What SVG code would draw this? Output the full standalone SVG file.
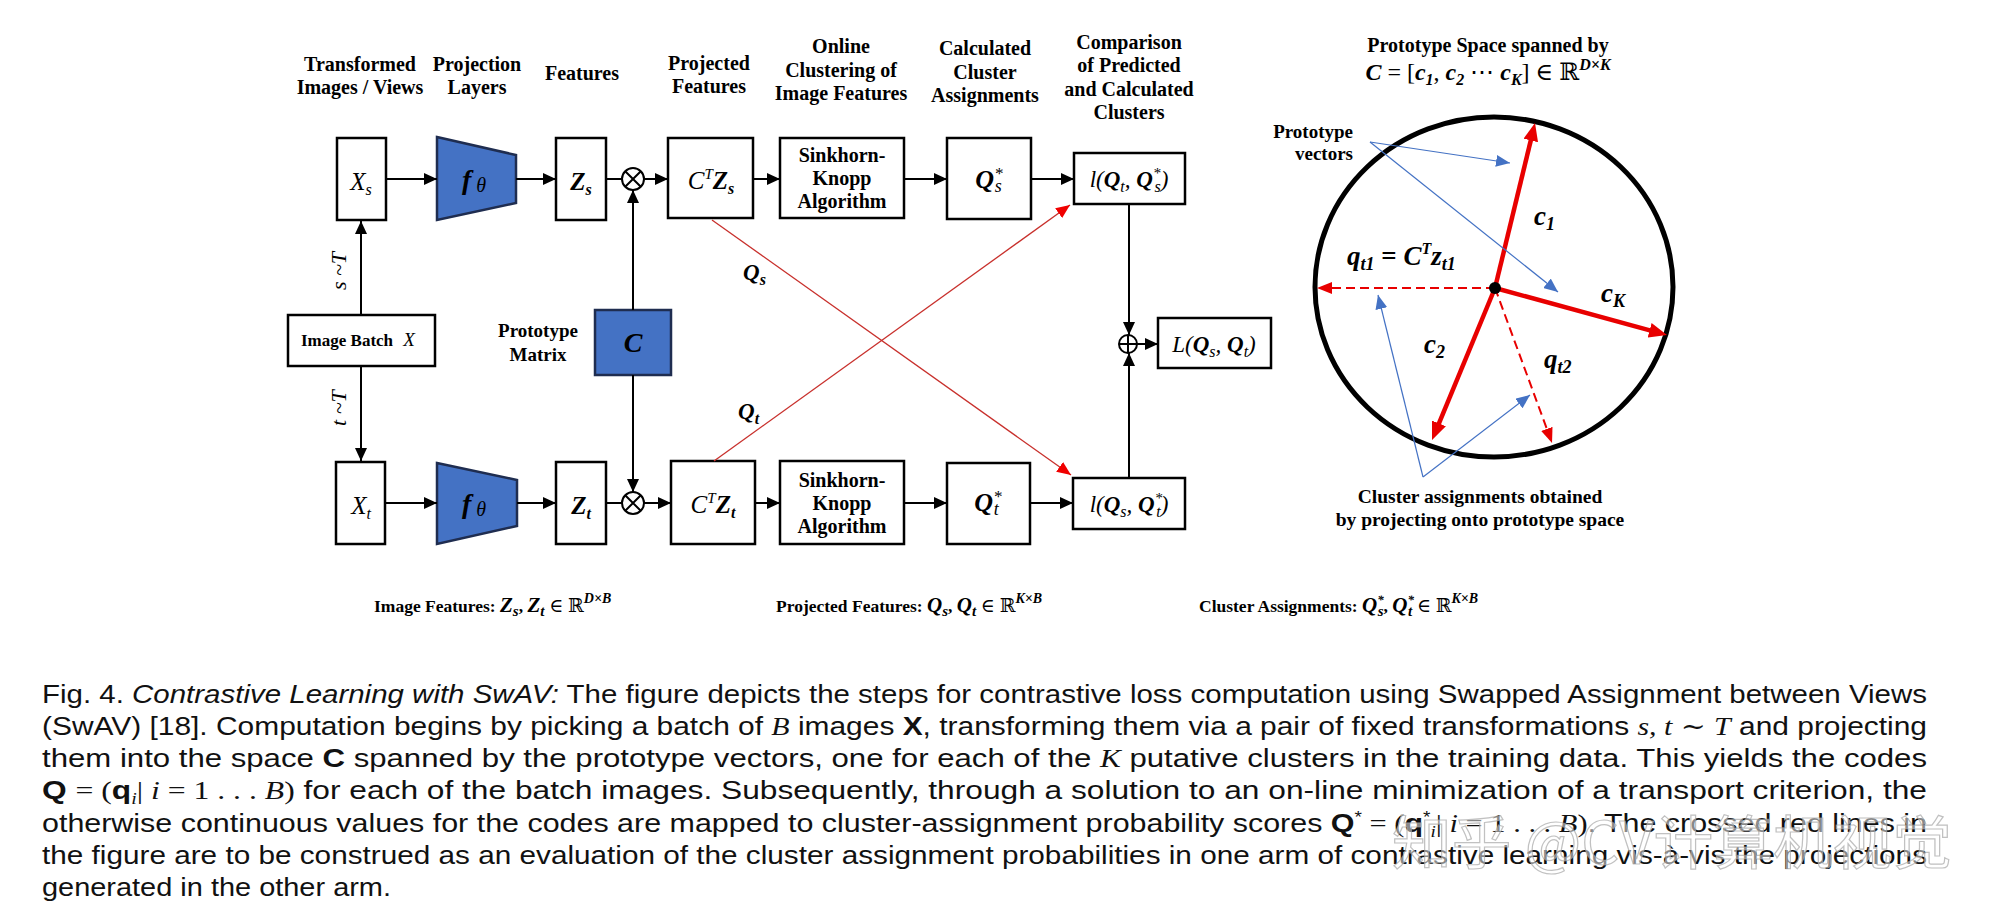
<svg xmlns="http://www.w3.org/2000/svg" width="2002" height="924" viewBox="0 0 2002 924">
<style>
.hdr{font-family:"Liberation Serif","DejaVu Serif",serif;font-weight:bold;font-size:20px;text-anchor:middle;fill:#000}
.lbl{font-family:"Liberation Serif","DejaVu Serif",serif;font-weight:bold;fill:#000}
.box{fill:#fff;stroke:#000;stroke-width:2.5}
.blue{fill:#4472C4;stroke:#1F2D50;stroke-width:2.5}
.m{font-family:"Liberation Serif","DejaVu Serif",serif;font-style:italic;fill:#000}
.mb{font-family:"Liberation Serif","DejaVu Serif",serif;font-style:italic;font-weight:bold;fill:#000}
.conn{stroke:#000;stroke-width:2;fill:none}
.redl{stroke:#C8302C;stroke-width:1.3;fill:none}
.rthick{stroke:#E80000;stroke-width:4.5;fill:none}
.rdash{stroke:#E80000;stroke-width:2;fill:none;stroke-dasharray:9 5}
.bl{stroke:#4472C4;stroke-width:1.2;fill:none}
.cap{font-family:"Liberation Sans",Arial,sans-serif;font-size:25.5px;fill:#111}
.cm{font-family:"Liberation Serif","DejaVu Serif",serif;font-style:italic}
.cr{font-family:"Liberation Serif","DejaVu Serif",serif}
</style>
<defs>
<marker id="ah" markerUnits="userSpaceOnUse" viewBox="0 0 13 12" refX="13" refY="6" markerWidth="13" markerHeight="12" orient="auto"><path d="M0,0 L13,6 L0,12 z" fill="#000"/></marker>
<marker id="ahr" markerUnits="userSpaceOnUse" viewBox="0 0 14 12" refX="14" refY="6" markerWidth="14" markerHeight="12" orient="auto"><path d="M0,0 L14,6 L0,12 z" fill="#F00000"/></marker>
<marker id="ahR" markerUnits="userSpaceOnUse" viewBox="0 0 18 15" refX="4" refY="7.5" markerWidth="18" markerHeight="15" orient="auto"><path d="M0,0 L18,7.5 L0,15 z" fill="#E80000"/></marker>
<marker id="ahD" markerUnits="userSpaceOnUse" viewBox="0 0 15 12" refX="3" refY="6" markerWidth="15" markerHeight="12" orient="auto"><path d="M0,0 L15,6 L0,12 z" fill="#E80000"/></marker>
<marker id="ahB" markerUnits="userSpaceOnUse" viewBox="0 0 14 12" refX="14" refY="6" markerWidth="14" markerHeight="12" orient="auto"><path d="M0,0 L14,6 L0,12 z" fill="#4472C4"/></marker>
</defs>
<rect width="2002" height="924" fill="#fff"/>

<!-- headers -->
<g id="headers">
<text class="hdr" x="360" y="71">Transformed</text><text class="hdr" x="360" y="94">Images / Views</text>
<text class="hdr" x="477" y="71">Projection</text><text class="hdr" x="477" y="94">Layers</text>
<text class="hdr" x="582" y="80">Features</text>
<text class="hdr" x="709" y="70">Projected</text><text class="hdr" x="709" y="93">Features</text>
<text class="hdr" x="841" y="53">Online</text><text class="hdr" x="841" y="77">Clustering of</text><text class="hdr" x="841" y="100">Image Features</text>
<text class="hdr" x="985" y="55">Calculated</text><text class="hdr" x="985" y="79">Cluster</text><text class="hdr" x="985" y="102">Assignments</text>
<text class="hdr" x="1129" y="49">Comparison</text><text class="hdr" x="1129" y="72">of Predicted</text><text class="hdr" x="1129" y="96">and Calculated</text><text class="hdr" x="1129" y="119">Clusters</text>
</g>

<!-- top row -->
<g id="Xs"><rect class="box" x="337" y="138" width="49" height="82"/><text class="m" x="361" y="190" font-size="25" text-anchor="middle">X<tspan font-size="16" dy="5">s</tspan></text></g>
<g id="f_top"><polygon class="blue" points="437,137 516,155 516,203 437,220"/><text class="mb" x="474" y="189" font-size="28" text-anchor="middle" fill="#111">f<tspan class="m" font-weight="normal" font-size="20" dy="3"> θ</tspan></text></g>
<g id="Zs"><rect class="box" x="556" y="138" width="50" height="82"/><text class="mb" x="581" y="190" font-size="25" text-anchor="middle">Z<tspan font-size="16" dy="5">s</tspan></text></g>
<g id="otimes_top"><circle cx="633" cy="179" r="11" fill="#fff" stroke="#000" stroke-width="2"/><path d="M625.2,171.2 L640.8,186.8 M640.8,171.2 L625.2,186.8" stroke="#000" stroke-width="2"/></g>
<g id="CTZs"><rect class="box" x="668" y="138" width="85" height="80"/><text class="m" x="711" y="189" font-size="25" text-anchor="middle">C<tspan font-size="15" dy="-10">T</tspan><tspan class="mb" dy="10">Z</tspan><tspan font-size="16" font-weight="bold" dy="5">s</tspan></text></g>
<g id="SK_top"><rect class="box" x="780" y="138" width="124" height="80"/><text class="hdr" x="842" y="162">Sinkhorn-</text><text class="hdr" x="842" y="185">Knopp</text><text class="hdr" x="842" y="208">Algorithm</text></g>
<g id="Qs_star"><rect class="box" x="947" y="138" width="84" height="81"/><text class="mb" x="989" y="188" font-size="26" text-anchor="middle">Q<tspan class="m" font-weight="normal" font-size="17" dy="-9">*</tspan><tspan class="m" font-weight="normal" font-size="18" dx="-8" dy="13">s</tspan></text></g>
<g id="l_top"><rect class="box" x="1074" y="153" width="111" height="51"/><text class="m" x="1129" y="187" font-size="23" text-anchor="middle">l(<tspan class="mb">Q</tspan><tspan font-size="16" dy="5">t</tspan><tspan dy="-5">, </tspan><tspan class="mb">Q</tspan><tspan font-size="15" dy="-9">*</tspan><tspan font-size="16" dx="-6" dy="14">s</tspan><tspan dy="-5">)</tspan></text></g>

<!-- middle -->
<g id="ImageBatch"><rect class="box" x="288" y="315" width="147" height="51"/><text class="lbl" x="301" y="346" font-size="17">Image Batch <tspan class="m" font-weight="normal" font-size="19" dx="6">X</tspan></text></g>
<text class="m" x="346" y="271" font-size="22" text-anchor="middle" transform="rotate(-90 346 271)">s ~<tspan>T</tspan></text>
<text class="m" x="346" y="408" font-size="22" text-anchor="middle" transform="rotate(-90 346 408)">t ~<tspan>T</tspan></text>
<g id="ProtoC"><text class="lbl" x="538" y="337" font-size="19" text-anchor="middle">Prototype</text><text class="lbl" x="538" y="361" font-size="19" text-anchor="middle">Matrix</text><rect class="blue" x="595" y="310" width="76" height="65"/><text class="mb" x="633" y="352" font-size="28" text-anchor="middle" fill="#0E1730">C</text></g>
<g id="oplus"><circle cx="1128" cy="344" r="9" fill="#fff" stroke="#000" stroke-width="2"/><path d="M1119,344 L1137,344 M1128,335 L1128,353" stroke="#000" stroke-width="2"/></g>
<g id="L_total"><rect class="box" x="1158" y="318" width="113" height="50"/><text class="m" x="1214" y="352" font-size="23" text-anchor="middle">L(<tspan class="mb">Q</tspan><tspan font-size="16" dy="5">s</tspan><tspan dy="-5">, </tspan><tspan class="mb">Q</tspan><tspan font-size="16" dy="5">t</tspan><tspan dy="-5">)</tspan></text></g>
<text class="mb" x="743" y="280" font-size="23">Q<tspan class="m" font-weight="bold" font-size="16" dy="5">s</tspan></text>
<text class="mb" x="738" y="419" font-size="23">Q<tspan class="m" font-weight="bold" font-size="16" dy="5">t</tspan></text>

<!-- bottom row -->
<g id="Xt"><rect class="box" x="336" y="462" width="49" height="82"/><text class="m" x="361" y="514" font-size="25" text-anchor="middle">X<tspan font-size="16" dy="5">t</tspan></text></g>
<g id="f_bot"><polygon class="blue" points="437,463 517,480 517,526 437,544"/><text class="mb" x="474" y="513" font-size="28" text-anchor="middle" fill="#111">f<tspan class="m" font-weight="normal" font-size="20" dy="3"> θ</tspan></text></g>
<g id="Zt"><rect class="box" x="556" y="462" width="50" height="82"/><text class="mb" x="581" y="514" font-size="25" text-anchor="middle">Z<tspan font-size="16" dy="5">t</tspan></text></g>
<g id="otimes_bot"><circle cx="633" cy="503" r="11" fill="#fff" stroke="#000" stroke-width="2"/><path d="M625.2,495.2 L640.8,510.8 M640.8,495.2 L625.2,510.8" stroke="#000" stroke-width="2"/></g>
<g id="CTZt"><rect class="box" x="671" y="461" width="84" height="83"/><text class="m" x="713" y="513" font-size="25" text-anchor="middle">C<tspan font-size="15" dy="-10">T</tspan><tspan class="mb" dy="10">Z</tspan><tspan font-size="16" font-weight="bold" dy="5">t</tspan></text></g>
<g id="SK_bot"><rect class="box" x="780" y="461" width="124" height="83"/><text class="hdr" x="842" y="487">Sinkhorn-</text><text class="hdr" x="842" y="510">Knopp</text><text class="hdr" x="842" y="533">Algorithm</text></g>
<g id="Qt_star"><rect class="box" x="947" y="463" width="83" height="81"/><text class="mb" x="988" y="511" font-size="26" text-anchor="middle">Q<tspan class="m" font-weight="normal" font-size="17" dy="-9">*</tspan><tspan class="m" font-weight="normal" font-size="18" dx="-8" dy="13">t</tspan></text></g>
<g id="l_bot"><rect class="box" x="1073" y="478" width="112" height="51"/><text class="m" x="1129" y="512" font-size="23" text-anchor="middle">l(<tspan class="mb">Q</tspan><tspan font-size="16" dy="5">s</tspan><tspan dy="-5">, </tspan><tspan class="mb">Q</tspan><tspan font-size="15" dy="-9">*</tspan><tspan font-size="16" dx="-6" dy="14">t</tspan><tspan dy="-5">)</tspan></text></g>

<!-- connectors -->
<g id="connectors">
<line class="conn" x1="386" y1="179" x2="437" y2="179" marker-end="url(#ah)"/>
<line class="conn" x1="516" y1="179" x2="556" y2="179" marker-end="url(#ah)"/>
<line class="conn" x1="606" y1="179" x2="622" y2="179"/>
<line class="conn" x1="644" y1="179" x2="668" y2="179" marker-end="url(#ah)"/>
<line class="conn" x1="753" y1="179" x2="780" y2="179" marker-end="url(#ah)"/>
<line class="conn" x1="904" y1="179" x2="947" y2="179" marker-end="url(#ah)"/>
<line class="conn" x1="1031" y1="179" x2="1074" y2="179" marker-end="url(#ah)"/>
<line class="conn" x1="385" y1="503" x2="437" y2="503" marker-end="url(#ah)"/>
<line class="conn" x1="517" y1="503" x2="556" y2="503" marker-end="url(#ah)"/>
<line class="conn" x1="606" y1="503" x2="622" y2="503"/>
<line class="conn" x1="644" y1="503" x2="671" y2="503" marker-end="url(#ah)"/>
<line class="conn" x1="755" y1="503" x2="780" y2="503" marker-end="url(#ah)"/>
<line class="conn" x1="904" y1="503" x2="947" y2="503" marker-end="url(#ah)"/>
<line class="conn" x1="1030" y1="503" x2="1073" y2="503" marker-end="url(#ah)"/>
<line class="conn" x1="361" y1="315" x2="361" y2="221" marker-end="url(#ah)"/>
<line class="conn" x1="361" y1="366" x2="361" y2="461" marker-end="url(#ah)"/>
<line class="conn" x1="633" y1="310" x2="633" y2="190" marker-end="url(#ah)"/>
<line class="conn" x1="633" y1="375" x2="633" y2="492" marker-end="url(#ah)"/>
<line class="conn" x1="1129" y1="204" x2="1129" y2="335" marker-end="url(#ah)"/>
<line class="conn" x1="1129" y1="478" x2="1129" y2="353" marker-end="url(#ah)"/>
<line class="conn" x1="1137" y1="344" x2="1158" y2="344" marker-end="url(#ah)"/>
<line class="redl" x1="712" y1="220" x2="1071" y2="475" marker-end="url(#ahr)"/>
<line class="redl" x1="714" y1="461" x2="1070" y2="205" marker-end="url(#ahr)"/>
</g>

<!-- prototype space -->
<g id="prototype_space">
<text class="hdr" x="1488" y="52" font-size="23">Prototype Space spanned by</text>
<text class="mb" x="1488" y="80" font-size="24" text-anchor="middle">C<tspan class="cr" font-weight="normal" font-style="normal">  = [</tspan>c<tspan font-size="16" dy="5">1</tspan><tspan class="cr" font-weight="normal" font-style="normal" dy="-5">, </tspan>c<tspan font-size="16" dy="5">2</tspan><tspan class="cr" font-weight="normal" font-style="normal" dy="-5"> ⋯ </tspan>c<tspan font-size="16" dy="5">K</tspan><tspan class="cr" font-weight="normal" font-style="normal" dy="-5">] ∈ ℝ</tspan><tspan font-size="16" dy="-10">D×K</tspan></text>
<ellipse cx="1494" cy="287" rx="179" ry="170" fill="none" stroke="#000" stroke-width="5"/>
<line class="rthick" x1="1495" y1="288" x2="1531.7" y2="136.6" marker-end="url(#ahR)"/>
<line class="rthick" x1="1495" y1="288" x2="1653.5" y2="331.3" marker-end="url(#ahR)"/>
<line class="rthick" x1="1495" y1="288" x2="1437.4" y2="427.1" marker-end="url(#ahR)"/>
<line class="rdash" x1="1495" y1="288" x2="1329" y2="288" marker-end="url(#ahD)"/>
<line class="rdash" x1="1495" y1="288" x2="1547.9" y2="431.7" marker-end="url(#ahD)"/>
<circle cx="1495" cy="288" r="6" fill="#000"/>
<text class="lbl" x="1353" y="138" font-size="19" text-anchor="end">Prototype</text>
<text class="lbl" x="1353" y="160" font-size="19" text-anchor="end">vectors</text>
<line class="bl" x1="1370" y1="142" x2="1510" y2="163" marker-end="url(#ahB)"/>
<line class="bl" x1="1370" y1="142" x2="1558" y2="292" marker-end="url(#ahB)"/>
<line class="bl" x1="1423" y1="477" x2="1378" y2="295" marker-end="url(#ahB)"/>
<line class="bl" x1="1423" y1="477" x2="1530" y2="395" marker-end="url(#ahB)"/>
<text class="mb" x="1534" y="225" font-size="27">c<tspan font-size="18" dy="5">1</tspan></text>
<text class="mb" x="1601" y="302" font-size="27">c<tspan font-size="18" dy="5">K</tspan></text>
<text class="mb" x="1424" y="353" font-size="27">c<tspan font-size="18" dy="5">2</tspan></text>
<text class="mb" x="1544" y="368" font-size="27">q<tspan font-size="18" dy="5">t2</tspan></text>
<text class="mb" x="1347" y="265" font-size="27">q<tspan font-size="18" dy="5">t1</tspan><tspan class="cr" font-weight="bold" font-style="normal" dy="-5"> = </tspan>C<tspan font-size="16" dy="-11">T</tspan><tspan dy="11">z</tspan><tspan font-size="18" dy="5">t1</tspan></text>
<text class="lbl" x="1480" y="503" font-size="19.5" text-anchor="middle">Cluster assignments obtained</text>
<text class="lbl" x="1480" y="526" font-size="19.5" text-anchor="middle">by projecting onto prototype space</text>
</g>

<!-- legend -->
<g id="legend">
<text class="lbl" x="374" y="612" font-size="17.5">Image Features: <tspan class="mb" font-size="21">Z</tspan><tspan class="mb" font-size="15" dy="4">s</tspan><tspan dy="-4">, </tspan><tspan class="mb" font-size="21">Z</tspan><tspan class="mb" font-size="15" dy="4">t</tspan><tspan font-weight="normal" font-size="19" dy="-4"> ∈ ℝ</tspan><tspan class="mb" font-size="14" dy="-9">D×B</tspan></text>
<text class="lbl" x="776" y="612" font-size="17.5">Projected Features: <tspan class="mb" font-size="21">Q</tspan><tspan class="mb" font-size="15" dy="4">s</tspan><tspan dy="-4">, </tspan><tspan class="mb" font-size="21">Q</tspan><tspan class="mb" font-size="15" dy="4">t</tspan><tspan font-weight="normal" font-size="19" dy="-4"> ∈ ℝ</tspan><tspan class="mb" font-size="14" dy="-9">K×B</tspan></text>
<text class="lbl" x="1199" y="612" font-size="17.5">Cluster Assignments: <tspan class="mb" font-size="21">Q</tspan><tspan class="m" font-size="13" dy="-8">*</tspan><tspan class="m" font-size="15" dx="-6" dy="12">s</tspan><tspan dy="-4">, </tspan><tspan class="mb" font-size="21">Q</tspan><tspan class="m" font-size="13" dy="-8">*</tspan><tspan class="m" font-size="15" dx="-6" dy="12">t</tspan><tspan font-weight="normal" font-size="19" dy="-4">  ∈ ℝ</tspan><tspan class="mb" font-size="14" dy="-9">K×B</tspan></text>
</g>

<!-- caption -->
<g id="caption">
<text class="cap" x="42" y="703" textLength="1885" lengthAdjust="spacingAndGlyphs">Fig. 4. <tspan font-style="italic">Contrastive Learning with SwAV:</tspan> The figure depicts the steps for contrastive loss computation using Swapped Assignment between Views</text>
<text class="cap" x="42" y="735" textLength="1885" lengthAdjust="spacingAndGlyphs">(SwAV) [18]. Computation begins by picking a batch of <tspan class="cm">B</tspan> images <tspan font-weight="bold">X</tspan>, transforming them via a pair of fixed transformations <tspan class="cm">s, t</tspan> <tspan class="cr">∼</tspan> <tspan class="cm">T</tspan> and projecting</text>
<text class="cap" x="42" y="767" textLength="1885" lengthAdjust="spacingAndGlyphs">them into the space <tspan font-weight="bold">C</tspan> spanned by the prototype vectors, one for each of the <tspan class="cm">K</tspan> putative clusters in the training data. This yields the codes</text>
<text class="cap" x="42" y="799" textLength="1885" lengthAdjust="spacingAndGlyphs"><tspan font-weight="bold">Q</tspan> <tspan class="cr">= (</tspan><tspan font-weight="bold">q</tspan><tspan class="cm" font-size="16" dy="5">i</tspan><tspan class="cr" dy="-5">| </tspan><tspan class="cm">i</tspan><tspan class="cr"> = 1 . . . </tspan><tspan class="cm">B</tspan><tspan class="cr">)</tspan> for each of the batch images. Subsequently, through a solution to an on-line minimization of a transport criterion, the</text>
<text class="cap" x="42" y="832" textLength="1885" lengthAdjust="spacingAndGlyphs">otherwise continuous values for the codes are mapped to cluster-assignment probability scores <tspan font-weight="bold">Q</tspan><tspan font-size="16" dy="-9">*</tspan><tspan class="cr" dy="9"> = (</tspan><tspan font-weight="bold">q</tspan><tspan font-size="16" dy="-9">*</tspan><tspan class="cm" font-size="16" dy="14">i</tspan><tspan class="cr" dy="-5">| </tspan><tspan class="cm">i</tspan><tspan class="cr"> = 1 . . . </tspan><tspan class="cm">B</tspan><tspan class="cr">)</tspan>. The crossed red lines in</text>
<text class="cap" x="42" y="864" textLength="1885" lengthAdjust="spacingAndGlyphs">the figure are to be construed as an evaluation of the cluster assignment probabilities in one arm of contrastive learning vis-à-vis the projections</text>
<text class="cap" x="42" y="896" textLength="349" lengthAdjust="spacingAndGlyphs">generated in the other arm.</text>
</g>

<text x="1392" y="864" font-family="'Noto Sans CJK SC',sans-serif" font-size="58" textLength="560" lengthAdjust="spacingAndGlyphs" fill="#ffffff" fill-opacity="0.5" stroke="#a0a0a0" stroke-width="1.2" stroke-opacity="0.65">知乎 @CV计算机视觉</text>
</svg>
